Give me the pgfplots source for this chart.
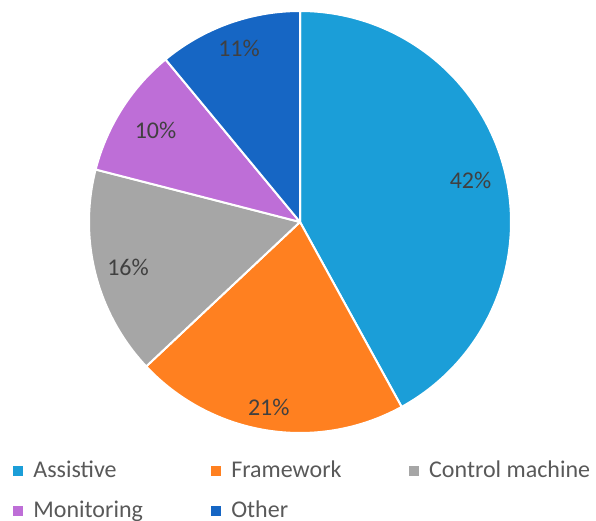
\documentclass[border=0pt]{standalone}
\usepackage{pgfplots}
\usepackage{pgfplotstable}
\pgfplotsset{compat=1.18}
\usepackage{fontspec}
\setmainfont{Carlito}
\definecolor{cA}{HTML}{1B9ED8}
\definecolor{cB}{HTML}{FF8020}
\definecolor{cC}{HTML}{A6A6A6}
\definecolor{cD}{HTML}{BE6ED7}
\definecolor{cE}{HTML}{1666C4}
\definecolor{lbl}{HTML}{404040}
\definecolor{leg}{HTML}{595959}
\pgfplotstableread{
category value
Assistive 42
Framework 21
Control 16
Monitoring 10
Other 11
}\piedata
\pgfplotstablegetelem{0}{value}\of\piedata\edef\vA{\pgfplotsretval}
\pgfplotstablegetelem{1}{value}\of\piedata\edef\vB{\pgfplotsretval}
\pgfplotstablegetelem{2}{value}\of\piedata\edef\vC{\pgfplotsretval}
\pgfplotstablegetelem{3}{value}\of\piedata\edef\vD{\pgfplotsretval}
\pgfplotstablegetelem{4}{value}\of\piedata\edef\vE{\pgfplotsretval}
\pgfmathsetmacro\aA{90}
\pgfmathsetmacro\aB{\aA-3.6*\vA}
\pgfmathsetmacro\aC{\aB-3.6*\vB}
\pgfmathsetmacro\aD{\aC-3.6*\vC}
\pgfmathsetmacro\aE{\aD-3.6*\vD}
\pgfmathsetmacro\aF{\aE-3.6*\vE}
\begin{document}%
\begin{tikzpicture}
\begin{axis}[
  scale only axis, width=596pt, height=521pt,
  xmin=0, xmax=596, ymin=0, ymax=521,
  hide axis, clip=false,
  legend columns=3,
  legend style={draw=none, fill=none, inner sep=0pt, outer sep=0pt,
    at={(axis cs:13,61.5)}, anchor=north west,
    font=\fontsize{24}{28}\selectfont, text=leg,
    nodes={inner sep=0pt, text height=18.5pt, text depth=3pt},
    row sep=18.5pt,
    /tikz/every odd column/.append style={column sep=11pt},
    /tikz/every even column/.append style={column sep=0pt}},
  legend cell align=left,
]
\addplot[forget plot, fill=cA, draw=white, line width=2pt, line join=round, domain=\aB:\aA, samples=120] ({300+211*cos(x)},{299+211*sin(x)}) -- (axis cs:300,299) -- cycle;
\addplot[forget plot, fill=cB, draw=white, line width=2pt, line join=round, domain=\aC:\aB, samples=80] ({300+211*cos(x)},{299+211*sin(x)}) -- (axis cs:300,299) -- cycle;
\addplot[forget plot, fill=cC, draw=white, line width=2pt, line join=round, domain=\aD:\aC, samples=60] ({300+211*cos(x)},{299+211*sin(x)}) -- (axis cs:300,299) -- cycle;
\addplot[forget plot, fill=cD, draw=white, line width=2pt, line join=round, domain=\aE:\aD, samples=40] ({300+211*cos(x)},{299+211*sin(x)}) -- (axis cs:300,299) -- cycle;
\addplot[forget plot, fill=cE, draw=white, line width=2pt, line join=round, domain=\aF:\aE, samples=40] ({300+211*cos(x)},{299+211*sin(x)}) -- (axis cs:300,299) -- cycle;
\addlegendimage{legend image code/.code={\fill[cA] (0pt,-4.5pt) rectangle (9pt,4.5pt);}}
\addlegendentry{\makebox[177.5pt][l]{Assistive}}
\addlegendimage{legend image code/.code={\fill[cB] (0pt,-4.5pt) rectangle (9pt,4.5pt);}}
\addlegendentry{\makebox[177.5pt][l]{Framework}}
\addlegendimage{legend image code/.code={\fill[cC] (0pt,-4.5pt) rectangle (9pt,4.5pt);}}
\addlegendentry{Control machine}
\addlegendimage{legend image code/.code={\fill[cD] (0pt,-4.5pt) rectangle (9pt,4.5pt);}}
\addlegendentry{\makebox[177.5pt][l]{Monitoring}}
\addlegendimage{legend image code/.code={\fill[cE] (0pt,-4.5pt) rectangle (9pt,4.5pt);}}
\addlegendentry{\makebox[177.5pt][l]{Other}}
\begin{scope}[every node/.style={font=\fontsize{24}{28}\selectfont, text=lbl}]
\node at (axis cs:470.5,341) {\vA\%};
\node at (axis cs:268.8,114) {\vB\%};
\node at (axis cs:128,254) {\vC\%};
\node at (axis cs:155.5,391) {\vD\%};
\node at (axis cs:239,473) {\vE\%};
\end{scope}
\end{axis}
\pgfresetboundingbox
\path (current axis.south west) rectangle (current axis.north east);
\end{tikzpicture}%
\end{document}
